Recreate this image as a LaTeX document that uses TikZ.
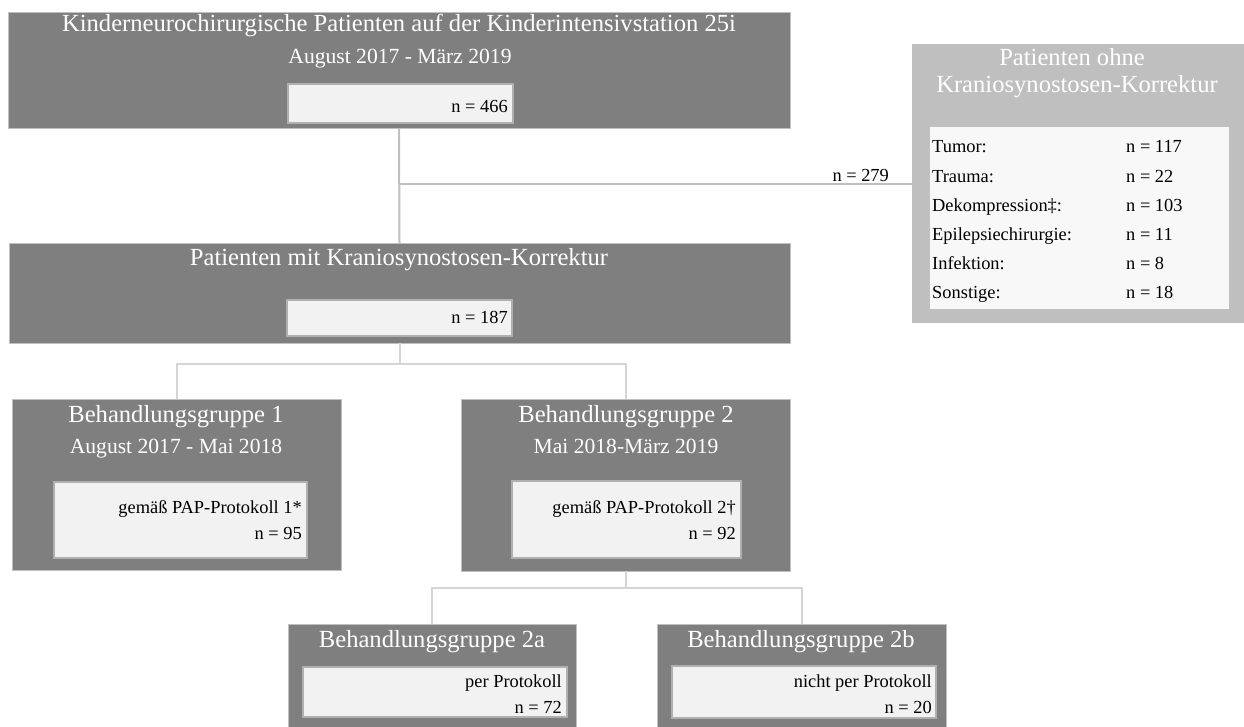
\documentclass[tikz,border=0pt]{standalone}
\usepackage{fontspec}
\setmainfont{Liberation Serif}
\definecolor{boxgray}{HTML}{7F7F7F}
\definecolor{sidegray}{HTML}{BFBFBF}
\definecolor{innerfill}{HTML}{F2F2F2}
\definecolor{sideinner}{HTML}{F8F8F8}
\definecolor{innerborder}{HTML}{B0B0B0}
\definecolor{edgegray}{HTML}{C0C0C0}
\definecolor{conngray}{HTML}{BFBFBF}
\definecolor{connlight}{HTML}{D5D5D5}
\newcommand{\ttlfont}{\fontsize{24.6pt}{28pt}\selectfont}
\newcommand{\subfont}{\fontsize{21.6pt}{25pt}\selectfont}
\newcommand{\inrfont}{\fontsize{18.4pt}{22pt}\selectfont}
\tikzset{
  darkbox/.style={fill=boxgray, draw=edgegray, line width=0.8pt, inner sep=0pt, outer sep=0pt, anchor=north west},
  sidebox/.style={fill=sidegray, draw=none, inner sep=0pt, outer sep=0pt, anchor=north west},
  innerbox/.style={fill=innerfill, draw=innerborder, line width=1.4pt, inner sep=0pt, outer sep=0pt, anchor=north west},
  sideinnerbox/.style={fill=sideinner, draw=innerborder!80, line width=1.4pt, inner sep=0pt, outer sep=0pt, anchor=north west},
  ttl/.style={text=white, font=\ttlfont, anchor=base, inner sep=0pt},
  subt/.style={text=white, font=\subfont, anchor=base, inner sep=0pt},
  inr/.style={text=black, font=\inrfont, anchor=base east, inner sep=0pt},
  lst/.style={text=black, font=\inrfont, anchor=base west, inner sep=0pt},
  conn/.style={draw=conngray, line width=2pt},
  connl/.style={draw=connlight, line width=2pt}
}
\begin{document}
\begin{tikzpicture}[x=1pt,y=-1pt]
\useasboundingbox (0,0) rectangle (1244,726);
% ---------- boxes ----------
\node[darkbox, minimum width=782pt, minimum height=116pt] (top) at (8,12) {};
\node[innerbox, minimum width=225pt, minimum height=39pt] (topin) at (288,84) {};
\node[darkbox, minimum width=781pt, minimum height=100pt] (mid) at (9,243) {};
\node[innerbox, minimum width=225pt, minimum height=36pt] (midin) at (287,300) {};
\node[darkbox, minimum width=329pt, minimum height=171pt] (bg1) at (12,399) {};
\node[innerbox, minimum width=253pt, minimum height=76pt] (bg1in) at (54,482) {};
\node[darkbox, minimum width=329pt, minimum height=172pt] (bg2) at (461,399) {};
\node[innerbox, minimum width=229pt, minimum height=77pt] (bg2in) at (512,481) {};
\node[darkbox, minimum width=288pt, minimum height=110pt] (bga) at (288,624) {};
\node[innerbox, minimum width=264pt, minimum height=50pt] (bgain) at (303,667) {};
\node[darkbox, minimum width=289pt, minimum height=110pt] (bgb) at (657,624) {};
\node[innerbox, minimum width=264pt, minimum height=52pt] (bgbin) at (672,666) {};
\node[sidebox, minimum width=340pt, minimum height=279pt] (side) at (912,44) {};
\node[sideinnerbox, minimum width=301pt, minimum height=184pt] (sidein) at (929,126) {};
% ---------- texts ----------
\node[ttl] (t1) at (399,31) {Kinderneurochirurgische Patienten auf der Kinderintensivstation 25i};
\node[subt] (t1s) at (400,63) {August 2017 - März 2019};
\node[inr] (t1n) at (508,112) {n = 466};
\node[ttl] (t2) at (399,265) {Patienten mit Kraniosynostosen-Korrektur};
\node[inr] (t2n) at (508,323) {n = 187};
\node[ttl] (t3) at (176,422) {Behandlungsgruppe 1};
\node[subt] (t3s) at (176,453) {August 2017 - Mai 2018};
\node[inr] (t3a) at (302,513) {gemäß PAP-Protokoll 1*};
\node[inr] (t3n) at (302,539) {n = 95};
\node[ttl] (t4) at (626,422) {Behandlungsgruppe 2};
\node[subt] (t4s) at (626,453) {Mai 2018-März 2019};
\node[inr] (t4a) at (736,513) {gemäß PAP-Protokoll 2†};
\node[inr] (t4n) at (736,539) {n = 92};
\node[ttl] (t5) at (432,647) {Behandlungsgruppe 2a};
\node[inr] (t5a) at (562,687) {per Protokoll};
\node[inr] (t5n) at (562,713) {n = 72};
\node[ttl] (t6) at (801,647) {Behandlungsgruppe 2b};
\node[inr] (t6a) at (932,687) {nicht per Protokoll};
\node[inr] (t6n) at (932,713) {n = 20};
\node[ttl, text=white] (t7a) at (1072,65) {Patienten ohne};
\node[ttl, text=white] (t7b) at (1077,92) {Kraniosynostosen-Korrektur};
\node[lst] (l1) at (932,152) {Tumor:};
\node[lst] (l2) at (932,182) {Trauma:};
\node[lst] (l3) at (932,211) {Dekompression‡:};
\node[lst] (l4) at (932,240) {Epilepsiechirurgie:};
\node[lst] (l5) at (932,269) {Infektion:};
\node[lst] (l6) at (932,298) {Sonstige:};
\node[lst] (v1) at (1126,152) {n = 117};
\node[lst] (v2) at (1126,182) {n = 22};
\node[lst] (v3) at (1126,211) {n = 103};
\node[lst] (v4) at (1126,240) {n = 11};
\node[lst] (v5) at (1126,269) {n = 8};
\node[lst] (v6) at (1126,298) {n = 18};
% ---------- connectors ----------
\coordinate (j1) at (top.south |- 0,184);
\draw[conn] (top.south) -- (mid.north);
\draw[conn] (j1) -- (j1 -| side.west) node[pos=0.9, above=1pt, text=black, font=\inrfont, inner sep=0pt] (n279) {n = 279};
\coordinate (j2) at (mid.south |- 0,364);
\draw[connl] (mid.south) -- (j2);
\draw[connl] (bg1.north) |- (j2) -| (bg2.north);
\coordinate (j3) at (bg2.south |- 0,588);
\draw[connl] (bg2.south) -- (j3);
\draw[connl] (bga.north) |- (j3) -| (bgb.north);
\end{tikzpicture}
\end{document}
